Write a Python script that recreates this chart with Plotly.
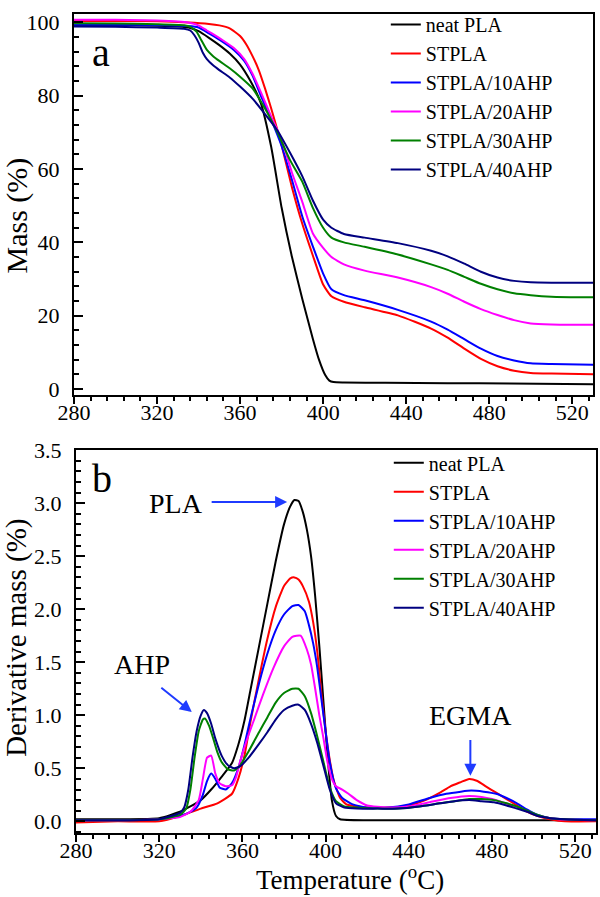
import plotly.graph_objects as go

FONT = "Liberation Serif"

series_names = ["neat PLA", "STPLA", "STPLA/10AHP", "STPLA/20AHP", "STPLA/30AHP", "STPLA/40AHP"]
series_colors = ["#000000", "#ff0000", "#0000ff", "#ff00ff", "#008000", "#000080"]

# ---------------- Panel a: TGA mass (%) ----------------
tga_T_neat = [280, 300, 320, 330, 336, 340, 345, 350, 355, 360, 365, 370, 375, 380, 385, 390, 395, 398, 401, 403, 405, 410, 430, 460, 490, 530]
tga_M_neat = [99.3, 99.3, 99.1, 98.9, 98.5, 97.6, 95.8, 93.8, 91.5, 88.5, 84.0, 78.0, 66.0, 49.5, 36.0, 24.5, 13.8, 8.0, 3.8, 2.3, 1.9, 1.8, 1.7, 1.6, 1.5, 1.3]

tga_T_st = [280, 300, 320, 335, 345, 350, 355, 360, 363, 366, 369, 372, 375, 380, 385, 390, 395, 400, 404, 410, 420, 436, 452, 460, 468, 476, 484, 492, 500, 510, 530]
tga_M_st = [100.4, 100.4, 100.3, 100.0, 99.6, 99.2, 98.4, 96.3, 94.0, 90.8, 87.0, 82.0, 76.5, 66.5, 55.0, 45.0, 36.5, 28.5, 25.3, 23.8, 22.3, 20.1, 16.5, 14.0, 11.0, 8.2, 6.2, 5.0, 4.4, 4.2, 4.0]

tga_T_10 = [280, 300, 320, 335, 340, 345, 350, 357, 362, 366, 370, 375, 380, 385, 390, 395, 400, 404, 410, 420, 436, 452, 460, 468, 476, 484, 492, 500, 510, 530]
tga_M_10 = [99.4, 99.4, 99.3, 99.0, 98.6, 97.0, 95.3, 92.5, 89.5, 85.5, 80.0, 73.5, 66.3, 57.0, 47.0, 39.0, 31.5, 27.2, 25.6, 24.2, 21.6, 18.4, 16.2, 13.6, 11.0, 9.0, 7.8, 7.0, 6.8, 6.6]

tga_T_20 = [280, 300, 320, 335, 340, 344, 347, 352, 357, 362, 366, 370, 375, 380, 385, 390, 395, 400, 404, 410, 420, 436, 452, 460, 468, 476, 484, 492, 500, 510, 530]
tga_M_20 = [100.7, 100.7, 100.5, 100.0, 99.2, 97.8, 96.8, 95.0, 93.0, 90.0, 86.0, 81.0, 74.3, 68.0, 59.0, 51.0, 42.5, 38.5, 36.0, 34.0, 32.3, 30.4, 27.8, 26.0, 23.8, 21.8, 20.2, 18.8, 17.9, 17.6, 17.5]

tga_T_30 = [280, 300, 320, 333, 336, 339, 341, 344, 347, 350, 355, 360, 366, 372, 378, 384, 390, 395, 400, 404, 410, 420, 436, 452, 460, 468, 476, 484, 492, 500, 510, 530]
tga_M_30 = [99.8, 99.7, 99.5, 99.2, 98.8, 97.5, 95.5, 92.5, 90.8, 89.5, 87.5, 85.2, 82.0, 76.5, 70.0, 62.5, 56.5, 49.5, 44.0, 41.3, 40.0, 38.8, 36.7, 34.0, 32.5, 30.6, 28.7, 27.2, 26.1, 25.6, 25.2, 25.0]

tga_T_40 = [280, 300, 320, 333, 336, 338, 340, 342, 344, 347, 350, 355, 360, 366, 372, 378, 384, 390, 395, 400, 404, 410, 420, 436, 452, 460, 468, 476, 484, 492, 500, 510, 530]
tga_M_40 = [98.9, 98.8, 98.6, 98.3, 97.8, 96.5, 94.5, 91.8, 90.0, 88.3, 87.0, 85.0, 82.5, 79.2, 75.0, 70.5, 64.5, 58.0, 51.5, 46.2, 44.0, 42.3, 41.3, 39.8, 37.7, 36.2, 34.2, 32.0, 30.4, 29.5, 29.1, 29.0, 29.0]

# ---------------- Panel b: DTG derivative mass (%) ----------------
dtg_T_neat = [280, 300, 320, 330, 335, 340, 345, 350, 355, 358, 361, 364, 368, 372, 376, 380, 383, 385, 387, 389, 391, 393, 395, 397, 399, 401, 403, 405, 407, 420, 460, 530]
dtg_D_neat = [0.02, 0.02, 0.03, 0.09, 0.14, 0.2, 0.3, 0.42, 0.55, 0.72, 0.95, 1.25, 1.65, 2.05, 2.45, 2.8, 2.97, 3.03, 3.02, 2.92, 2.75, 2.5, 2.12, 1.65, 1.12, 0.6, 0.2, 0.05, 0.02, 0.01, 0.01, 0.01]

dtg_T_st = [280, 300, 320, 330, 340, 348, 355, 358, 361, 364, 368, 372, 376, 380, 383, 385, 387, 389, 392, 394, 396, 398, 400, 402, 404, 407, 410, 415, 420, 430, 440, 448, 455, 460, 465, 469, 473, 477, 482, 487, 492, 497, 502, 508, 515, 530]
dtg_D_st = [-0.01, 0.0, 0.0, 0.05, 0.12, 0.17, 0.26, 0.4, 0.62, 0.95, 1.35, 1.72, 2.02, 2.22, 2.29, 2.3, 2.28, 2.22, 2.07, 1.88, 1.6, 1.2, 0.85, 0.58, 0.38, 0.22, 0.16, 0.14, 0.13, 0.13, 0.15, 0.2, 0.27, 0.33, 0.37, 0.4, 0.38, 0.33, 0.27, 0.21, 0.15, 0.09, 0.05, 0.02, 0.0, 0.0]

dtg_T_10 = [280, 300, 320, 330, 335, 338, 341, 343, 345, 347, 349, 352, 355, 358, 361, 364, 368, 372, 376, 380, 384, 387, 390, 392, 394, 396, 398, 400, 402, 405, 408, 413, 420, 430, 440, 450, 458, 465, 470, 476, 482, 487, 492, 497, 502, 508, 515, 530]
dtg_D_10 = [0.01, 0.01, 0.02, 0.05, 0.09, 0.13, 0.25, 0.38, 0.45, 0.4, 0.32, 0.3, 0.36, 0.5, 0.72, 0.98, 1.3, 1.58, 1.8, 1.95, 2.03, 2.04, 1.98, 1.85, 1.68, 1.45, 1.15, 0.85, 0.56, 0.31, 0.22, 0.16, 0.13, 0.13, 0.16, 0.22, 0.26, 0.28, 0.29, 0.28, 0.26, 0.22, 0.17, 0.11, 0.06, 0.03, 0.02, 0.02]

dtg_T_20 = [280, 300, 320, 330, 335, 339, 341, 343, 345, 347, 349, 352, 355, 357, 359, 362, 366, 370, 375, 380, 384, 388, 391, 393, 395, 397, 399, 401, 403, 405, 408, 411, 415, 420, 430, 440, 450, 460, 469, 475, 480, 485, 490, 495, 500, 505, 512, 530]
dtg_D_20 = [0.01, 0.01, 0.02, 0.04, 0.09, 0.2, 0.4, 0.6, 0.62, 0.45, 0.36, 0.33, 0.34, 0.42, 0.57, 0.76, 0.98, 1.2, 1.45, 1.65, 1.74, 1.75, 1.62, 1.48, 1.25, 1.0, 0.78, 0.55, 0.4, 0.33, 0.3, 0.26, 0.2, 0.15, 0.13, 0.14, 0.18, 0.22, 0.24, 0.23, 0.21, 0.18, 0.15, 0.11, 0.07, 0.04, 0.02, 0.01]

dtg_T_30 = [280, 300, 320, 330, 333, 335, 337, 339, 341, 342, 344, 346, 348, 350, 353, 356, 359, 363, 368, 372, 376, 380, 384, 387, 390, 393, 396, 399, 402, 405, 409, 415, 425, 435, 445, 455, 462, 469, 475, 481, 487, 492, 497, 502, 508, 515, 530]
dtg_D_30 = [0.01, 0.01, 0.02, 0.06, 0.12, 0.3, 0.6, 0.85, 0.96, 0.97, 0.9, 0.78, 0.65, 0.56, 0.49, 0.48, 0.53, 0.66, 0.84, 0.98, 1.12, 1.21, 1.25, 1.25, 1.18, 1.02, 0.8, 0.56, 0.32, 0.19, 0.14, 0.13, 0.12, 0.12, 0.14, 0.17, 0.19, 0.21, 0.21, 0.2, 0.17, 0.14, 0.1, 0.06, 0.03, 0.02, 0.01]

dtg_T_40 = [280, 300, 320, 330, 332, 334, 336, 338, 340, 341.5, 343, 345, 347, 350, 353, 356, 359, 363, 368, 372, 376, 380, 384, 387, 390, 393, 396, 399, 402, 405, 409, 415, 425, 435, 445, 455, 462, 469, 475, 481, 487, 492, 497, 502, 508, 515, 530]
dtg_D_40 = [0.01, 0.01, 0.02, 0.08, 0.13, 0.3, 0.6, 0.85, 1.0, 1.05, 1.02, 0.92, 0.78, 0.62, 0.53, 0.5, 0.52, 0.6, 0.73, 0.84, 0.96, 1.05, 1.09, 1.1, 1.05, 0.92, 0.74, 0.52, 0.3, 0.17, 0.13, 0.12, 0.12, 0.12, 0.14, 0.17, 0.19, 0.2, 0.19, 0.18, 0.15, 0.12, 0.09, 0.05, 0.03, 0.02, 0.01]

# axis settings
x_range = [280, 530]
x_major = 40
x_minor = 8
mass_range = [-1.6, 102.3]
deriv_range = [-0.11, 3.5]

tga_sets = [(tga_T_neat, tga_M_neat), (tga_T_st, tga_M_st), (tga_T_10, tga_M_10),
            (tga_T_20, tga_M_20), (tga_T_30, tga_M_30), (tga_T_40, tga_M_40)]
dtg_sets = [(dtg_T_neat, dtg_D_neat), (dtg_T_st, dtg_D_st), (dtg_T_10, dtg_D_10),
            (dtg_T_20, dtg_D_20), (dtg_T_30, dtg_D_30), (dtg_T_40, dtg_D_40)]

fig = go.Figure()
for name, col, (T, M) in zip(series_names, series_colors, tga_sets):
    fig.add_trace(go.Scatter(x=T, y=M, mode="lines", name=name,
                             line=dict(color=col, width=2, shape="spline", smoothing=0.5),
                             xaxis="x", yaxis="y", legend="legend"))
for name, col, (T, D) in zip(series_names, series_colors, dtg_sets):
    fig.add_trace(go.Scatter(x=T, y=D, mode="lines", name=name,
                             line=dict(color=col, width=2, shape="spline", smoothing=0.5),
                             xaxis="x2", yaxis="y2", legend="legend2"))

W, H = 600, 897
ML, MR, MT, MB = 74, 2, 3, 64
PW = W - ML - MR
PH = H - MT - MB


def px_to_paper_x(px):
    return (px - ML) / PW


def px_to_paper_y(py):
    return (H - MB - py) / PH


common = dict(showline=True, linewidth=2, linecolor="black", mirror=True,
              showgrid=False, zeroline=False, tickcolor="black", tickwidth=2,
              tickfont=dict(family=FONT, size=22, color="black"))

xcommon = dict(range=x_range, tick0=280, dtick=x_major, ticks="outside", ticklen=7,
               ticklabelstandoff=-10,
               minor=dict(tick0=280, dtick=x_minor, ticks="outside", ticklen=4,
                          tickwidth=2, tickcolor="black"))

legend_font = dict(family=FONT, size=20, color="black")

fig.update_layout(
    width=W, height=H,
    autosize=False,
    font=dict(family=FONT, color="black"),
    margin=dict(l=ML, r=MR, t=MT, b=MB),
    paper_bgcolor="white", plot_bgcolor="white",
    xaxis=dict(**common, **xcommon, domain=[0, 521 / PW], anchor="y"),
    yaxis=dict(**common, range=mass_range, tick0=0, dtick=20, ticks="inside", ticklen=9,
               ticklabelstandoff=8,
               minor=dict(tick0=0, dtick=4, ticks="inside", ticklen=5, tickwidth=2, tickcolor="black"),
               domain=[px_to_paper_y(389), 1], anchor="x"),
    xaxis2=dict(**common, **xcommon, domain=[2 / PW, 1], anchor="y2"),
    yaxis2=dict(**common, range=deriv_range, tick0=0, dtick=0.5, tickformat=".1f",
                ticks="inside", ticklen=9, ticklabelstandoff=8,
                minor=dict(tick0=0, dtick=0.1, ticks="inside", ticklen=5, tickwidth=2, tickcolor="black"),
                domain=[0, px_to_paper_y(445)], anchor="x2"),
    legend=dict(x=px_to_paper_x(387), y=px_to_paper_y(-6), xanchor="left", yanchor="top",
                bgcolor="rgba(0,0,0,0)", font=legend_font, tracegroupgap=0),
    legend2=dict(x=px_to_paper_x(390), y=px_to_paper_y(438), xanchor="left", yanchor="top",
                 bgcolor="rgba(0,0,0,0)", font=legend_font, tracegroupgap=0),
    showlegend=True,
)

annots = []
# axis titles
annots.append(dict(text="Mass (%)", xref="paper", yref="paper", x=px_to_paper_x(17), y=px_to_paper_y(207),
                   textangle=-90, showarrow=False, font=dict(family=FONT, size=30, color="black"),
                   xanchor="center", yanchor="middle"))
annots.append(dict(text="Derivative mass (%)", xref="paper", yref="paper", x=px_to_paper_x(16), y=px_to_paper_y(635),
                   textangle=-90, showarrow=False, font=dict(family=FONT, size=29, color="black"),
                   xanchor="center", yanchor="middle"))
annots.append(dict(text="Temperature (<sup>o</sup>C)", xref="paper", yref="paper", x=px_to_paper_x(351), y=px_to_paper_y(879),
                   showarrow=False, font=dict(family=FONT, size=27, color="black"),
                   xanchor="center", yanchor="middle"))
# panel letters
annots.append(dict(text="a", xref="paper", yref="paper", x=px_to_paper_x(101), y=px_to_paper_y(42),
                   showarrow=False, font=dict(family=FONT, size=40, color="black"),
                   xanchor="center", yanchor="middle"))
annots.append(dict(text="b", xref="paper", yref="paper", x=px_to_paper_x(102), y=px_to_paper_y(474),
                   showarrow=False, font=dict(family=FONT, size=40, color="black"),
                   xanchor="center", yanchor="middle"))
# peak labels
ann_font = dict(family=FONT, size=28, color="black")
annots.append(dict(text="PLA", x=328, y=3.0, xref="x2", yref="y2", showarrow=False, font=ann_font,
                   xanchor="center", yanchor="middle"))
annots.append(dict(text="AHP", x=311.5, y=1.48, xref="x2", yref="y2", showarrow=False, font=ann_font,
                   xanchor="center", yanchor="middle"))
annots.append(dict(text="EGMA", x=469.5, y=1.0, xref="x2", yref="y2", showarrow=False, font=ann_font,
                   xanchor="center", yanchor="middle"))
# arrows
arrow_style = dict(showarrow=True, arrowhead=2, arrowsize=1.2, arrowwidth=2, arrowcolor="#1f3bff",
                   text="", xref="x2", yref="y2", axref="x2", ayref="y2")
annots.append(dict(x=381.5, y=3.01, ax=344.5, ay=3.01, **arrow_style))
annots.append(dict(x=335.7, y=1.03, ax=320.3, ay=1.27, **arrow_style))
annots.append(dict(x=469.6, y=0.43, ax=469.6, ay=0.78, **arrow_style))

fig.update_layout(annotations=annots)

fig.write_html("out.html", config={"displayModeBar": False},
               post_script="document.body.style.margin='0px';document.body.style.overflow='hidden';")
